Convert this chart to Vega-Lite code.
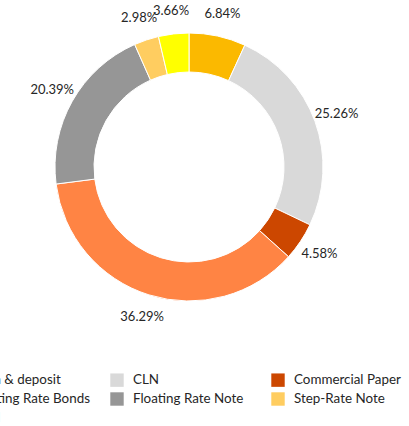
{
  "$schema": "https://vega.github.io/schema/vega-lite/v6.json",
  "autosize": {"type": "none"},
  "width": 378,
  "height": 334,
  "padding": {"left": 0, "top": 0, "right": 31, "bottom": 92},
  "background": "white",
  "config": {"view": {"stroke": null}, "font": "Lato"},
  "data": {
    "values": [
      {"category": "Cash & deposit", "share": 0.0684, "order": 1},
      {"category": "CLN", "share": 0.2526, "order": 2},
      {"category": "Commercial Paper", "share": 0.0458, "order": 3},
      {"category": "Floating Rate Bonds", "share": 0.3629, "order": 4},
      {"category": "Floating Rate Note", "share": 0.2039, "order": 5},
      {"category": "Step-Rate Note", "share": 0.0298, "order": 6},
      {"category": "Total", "share": 0.0366, "order": 7}
    ]
  },
  "encoding": {
    "theta": {"field": "share", "type": "quantitative", "stack": true},
    "order": {"field": "order", "type": "quantitative"}
  },
  "layer": [
    {
      "mark": {"type": "arc", "radius": 134, "radius2": 95, "stroke": "white", "strokeWidth": 1},
      "encoding": {
        "color": {
          "field": "category",
          "type": "nominal",
          "sort": null,
          "scale": {
            "domain": ["Cash & deposit", "CLN", "Commercial Paper", "Floating Rate Bonds", "Floating Rate Note", "Step-Rate Note", "Total"],
            "range": ["#FBB900", "#D9D9D9", "#CC4700", "#FF8444", "#969696", "#FFCD60", "#FFFF00"]
          },
          "legend": {
            "title": null,
            "orient": "none",
            "direction": "horizontal",
            "legendX": -51,
            "legendY": 373,
            "columns": 3,
            "gridAlign": "all",
            "columnPadding": 20,
            "rowPadding": 5,
            "padding": 0,
            "symbolType": "square",
            "symbolSize": 180,
            "symbolStrokeWidth": 0,
            "labelOffset": 9,
            "labelFontSize": 13.4,
            "labelFont": "Lato",
            "labelColor": "#262626",
            "labelLimit": 300
          }
        }
      }
    },
    {
      "mark": {"type": "text", "radius": 157, "fontSize": 13, "font": "Lato", "color": "#262626"},
      "encoding": {
        "text": {"field": "share", "type": "quantitative", "format": ".2%"}
      }
    }
  ]
}
